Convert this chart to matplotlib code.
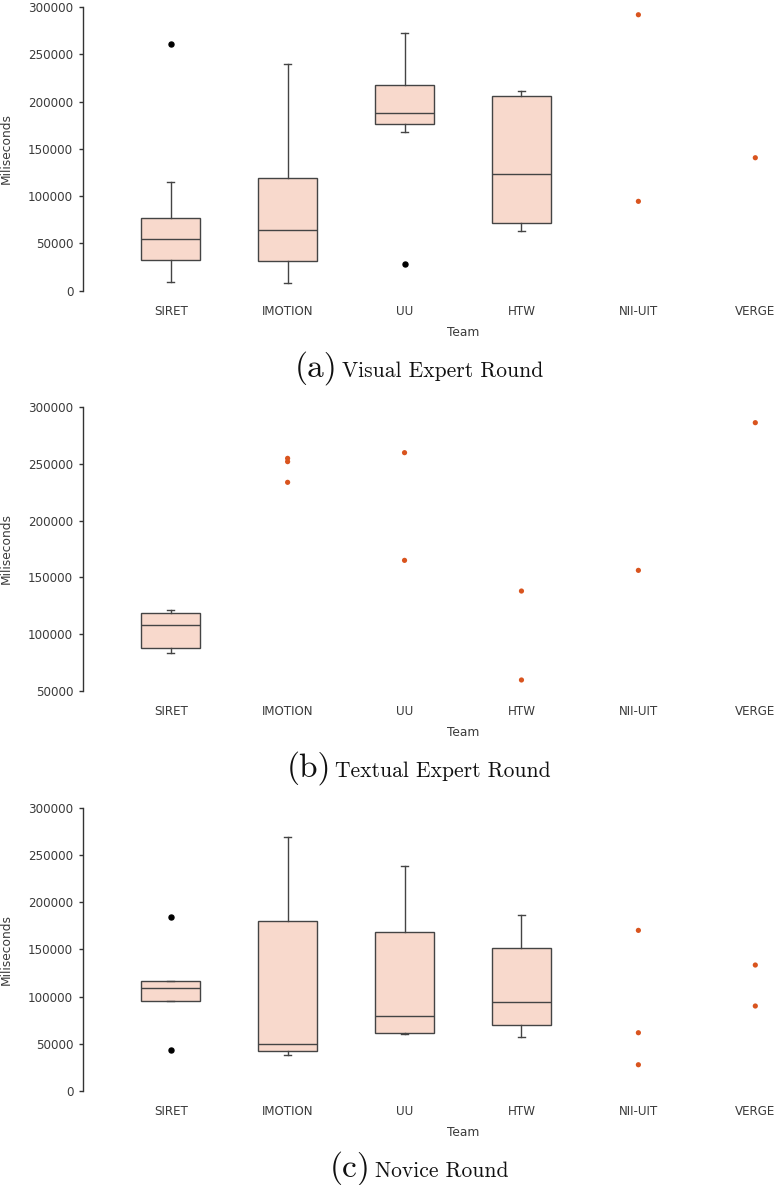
import matplotlib
matplotlib.use("Agg")
import matplotlib.pyplot as plt

# ---------------- data ----------------
teams = ["SIRET", "IMOTION", "UU", "HTW", "NII-UIT", "VERGE"]

# Panel (a) Visual Expert Round
a_box_teams = ["SIRET", "IMOTION", "UU", "HTW"]
a_whislo = [8700, 7800, 167800, 63500]
a_q1 = [32300, 31400, 176300, 71300]
a_med = [54800, 64500, 188200, 123100]
a_q3 = [77000, 118900, 217500, 206200]
a_whishi = [114800, 239400, 272800, 211200]
a_fliers = [[261200], [], [28600], []]
a_point_teams = ["NII-UIT", "NII-UIT", "VERGE"]
a_point_vals = [291800, 94500, 140600]

# Panel (b) Textual Expert Round
b_box_teams = ["SIRET"]
b_whislo = [83500]
b_q1 = [88100]
b_med = [107800]
b_q3 = [118400]
b_whishi = [121300]
b_fliers = [[]]
b_point_teams = ["IMOTION", "IMOTION", "IMOTION", "UU", "UU", "HTW", "HTW", "NII-UIT", "VERGE"]
b_point_vals = [254800, 251900, 233700, 259800, 165000, 138000, 59700, 156200, 286200]

# Panel (c) Novice Round
c_box_teams = ["SIRET", "IMOTION", "UU", "HTW"]
c_whislo = [95000, 38500, 60000, 57200]
c_q1 = [95000, 42000, 61100, 70300]
c_med = [108700, 49400, 79800, 93900]
c_q3 = [116200, 180400, 168000, 151100]
c_whishi = [116200, 269000, 237900, 186000]
c_fliers = [[184300, 43800], [], [], []]
c_point_teams = ["NII-UIT", "NII-UIT", "NII-UIT", "VERGE", "VERGE"]
c_point_vals = [170100, 61700, 27800, 133400, 90000]

y_ticks_a = [0, 50000, 100000, 150000, 200000, 250000, 300000]
y_ticks_b = [50000, 100000, 150000, 200000, 250000, 300000]
y_ticks_c = [0, 50000, 100000, 150000, 200000, 250000, 300000]

captions = [("(a)", "Visual Expert Round"),
            ("(b)", "Textual Expert Round"),
            ("(c)", "Novice Round")]

# ---------------- style ----------------
W, H = 778, 1185
DPI = 100
BOX_FACE = "#F8D9CC"
EDGE = "#444444"
ORANGE = "#D9541E"
TXT = "#3a3a3a"
plt.rcParams["font.family"] = ["DejaVu Sans"]

fig = plt.figure(figsize=(W / DPI, H / DPI), dpi=DPI)
fig.patch.set_facecolor("white")

LEFT_PX, RIGHT_PX = 83, 843
panels_px = [(7.0, 290.7), (407.0, 691.0), (807.7, 1091.0)]
ylims = [(0, 300000), (50000, 300000), (0, 300000)]
caption_base = [377, 777, 1177]

panel_data = [
    (a_box_teams, a_whislo, a_q1, a_med, a_q3, a_whishi, a_fliers, a_point_teams, a_point_vals, y_ticks_a),
    (b_box_teams, b_whislo, b_q1, b_med, b_q3, b_whishi, b_fliers, b_point_teams, b_point_vals, y_ticks_b),
    (c_box_teams, c_whislo, c_q1, c_med, c_q3, c_whishi, c_fliers, c_point_teams, c_point_vals, y_ticks_c),
]

cap_texts = []
for k, (top, bot) in enumerate(panels_px):
    ax = fig.add_axes([LEFT_PX / W, 1 - bot / H, (RIGHT_PX - LEFT_PX) / W, (bot - top) / H])
    bt, wl, q1, md, q3, wh, fl, pt, pv, yt = panel_data[k]
    stats = []
    for i in range(len(bt)):
        stats.append(dict(med=md[i], q1=q1[i], q3=q3[i], whislo=wl[i], whishi=wh[i], fliers=fl[i]))
    pos = [teams.index(t) for t in bt]
    ax.bxp(stats, positions=pos, widths=0.5, capwidths=0.06, patch_artist=True,
           boxprops=dict(facecolor=BOX_FACE, edgecolor=EDGE, linewidth=1.0),
           medianprops=dict(color=EDGE, linewidth=1.0),
           whiskerprops=dict(color=EDGE, linewidth=1.0),
           capprops=dict(color=EDGE, linewidth=1.0),
           flierprops=dict(marker="o", markerfacecolor="black", markeredgecolor="black",
                           markersize=3.6, linestyle="none"))
    ax.scatter([teams.index(t) for t in pt], pv, s=14, marker="o", color=ORANGE,
               edgecolors="none", zorder=3, clip_on=False)
    ax.set_xlim(-0.75, 5.75)
    ax.set_ylim(*ylims[k])
    ax.set_xticks(range(len(teams)))
    ax.set_xticklabels(teams)
    ax.set_yticks(yt)
    ax.set_yticklabels([str(v) for v in yt])
    for s in ["top", "right", "bottom"]:
        ax.spines[s].set_visible(False)
    ax.spines["left"].set_color("#333333")
    ax.spines["left"].set_linewidth(1.0)
    ax.tick_params(axis="x", length=0, pad=10, labelsize=8.6, labelcolor=TXT)
    ax.tick_params(axis="y", length=3, width=1.0, color="#333333", pad=4,
                   labelsize=8.6, labelcolor=TXT)
    ax.set_ylabel("Miliseconds", fontsize=8.8, color=TXT)
    ax.yaxis.set_label_coords(-(LEFT_PX - 12.5) / (RIGHT_PX - LEFT_PX), 0.5)
    ax.set_xlabel("Team", fontsize=8.8, color=TXT)
    ax.xaxis.set_label_coords(0.5, -35.0 / (bot - top))
    ax.patch.set_alpha(0)

    yb = 1 - caption_base[k] / H
    t1 = fig.text(0.5, yb, captions[k][0], family="cmr10", fontsize=24, color="#111111",
                  ha="right", va="baseline")
    t2 = fig.text(0.5, yb, captions[k][1], family="cmr10", fontsize=15.5, color="#111111",
                  ha="left", va="baseline")
    cap_texts.append((t1, t2))

# center captions at x ~ 419 px
fig.canvas.draw()
r = fig.canvas.get_renderer()
for t1, t2 in cap_texts:
    w1 = t1.get_window_extent(r).width
    w2 = t2.get_window_extent(r).width
    gap = 4
    total = w1 + gap + w2
    start = 419 - total / 2
    t1.set_x((start + w1) / W)
    t2.set_x((start + w1 + gap) / W)

fig.savefig("out.png", dpi=DPI)
